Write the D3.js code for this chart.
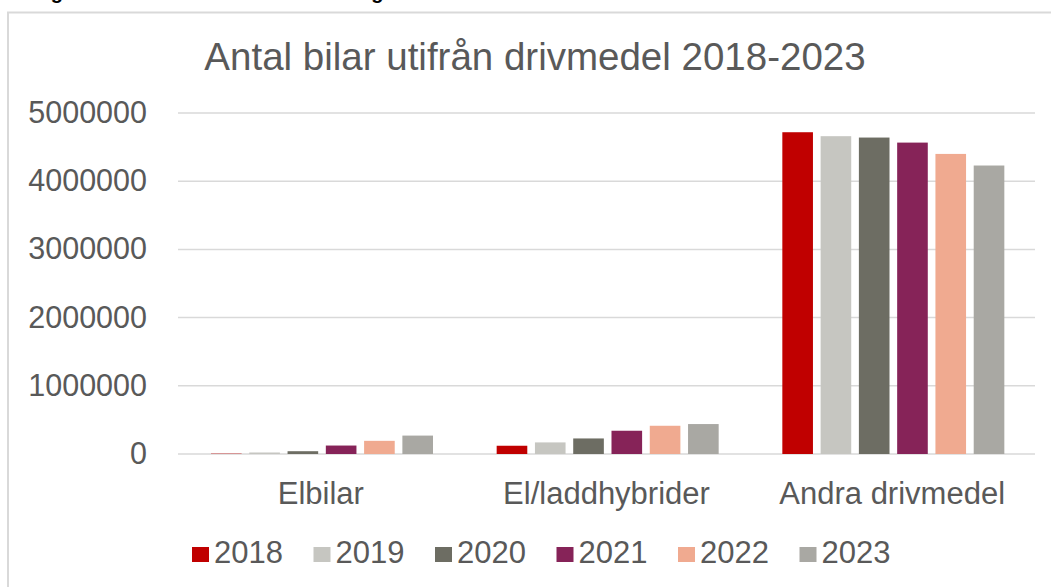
<!DOCTYPE html>
<html>
<head>
<meta charset="utf-8">
<script src="https://cdn.jsdelivr.net/npm/d3@7"></script>
<style>
  html, body { margin: 0; padding: 0; background: #fff; overflow: hidden; }
  svg { display: block; font-family: "Liberation Sans", Arial, sans-serif; }
</style>
</head>
<body>
<svg id="chart" width="1051" height="587"></svg>
<script>
// Antal bilar utifrån drivmedel 2018-2023 — grouped bars, one group per fuel type
const categories = ['Elbilar', 'El/laddhybrider', 'Andra drivmedel'];
const years = ['2018', '2019', '2020', '2021', '2022', '2023'];
const v2018 = [5000, 121000, 4718000];
const v2019 = [22000, 170000, 4660000];
const v2020 = [41000, 228000, 4640000];
const v2021 = [124000, 341000, 4566000];
const v2022 = [193000, 414000, 4400000];
const v2023 = [270000, 439000, 4230000];
const yTicks = [0, 1000000, 2000000, 3000000, 4000000, 5000000];
const colors = ['#c00000', '#c6c6c1', '#6d6d63', '#862358', '#f0aa90', '#a9a8a3'];

const series = [v2018, v2019, v2020, v2021, v2022, v2023];
const W = 1051, H = 587;
const plot = { left: 178, right: 1035, top: 113, bottom: 454 };
const textColor = '#595959';
const gridColor = '#d9d9d9';

const svg = d3.select('#chart');

// caption of the page above the chart, mostly cut off by the crop
svg.append('text')
  .attr('x', 33).attr('y', -1.5)
  .attr('font-size', 20).attr('font-weight', 'bold').attr('fill', '#000')
  .text('Figur 1. Antal bilar i trafik: fördelning');

// chart frame (runs off the right and bottom edge)
svg.append('rect')
  .attr('x', 8).attr('y', 12.5)
  .attr('width', W + 20).attr('height', H + 20)
  .attr('fill', 'none').attr('stroke', gridColor).attr('stroke-width', 2);

svg.append('text')
  .attr('x', 535).attr('y', 70)
  .attr('text-anchor', 'middle')
  .attr('font-size', 38.5).attr('fill', textColor)
  .text('Antal bilar utifrån drivmedel 2018-2023');

const x0 = d3.scaleBand().domain(categories).range([plot.left, plot.right]);
const x1 = d3.scaleBand().domain(years).range([33, 255]).paddingInner(0.2);
const y = d3.scaleLinear().domain([0, 5000000]).range([plot.bottom, plot.top]);

// gridlines
svg.append('g').selectAll('line').data(yTicks).join('line')
  .attr('x1', plot.left).attr('x2', plot.right)
  .attr('y1', d => y(d)).attr('y2', d => y(d))
  .attr('stroke', gridColor).attr('stroke-width', 1.5);

// y tick labels
svg.append('g').selectAll('text').data(yTicks).join('text')
  .attr('x', 147).attr('y', d => y(d) + 10)
  .attr('text-anchor', 'end')
  .attr('font-size', 30.5).attr('fill', textColor)
  .text(d => d3.format('d')(d));

// bars
const groups = svg.append('g').selectAll('g').data(categories).join('g')
  .attr('transform', c => `translate(${x0(c)},0)`);
groups.selectAll('rect')
  .data((c, ci) => years.map((yr, i) => ({ yr, i, value: series[i][ci] })))
  .join('rect')
  .attr('x', d => x1(d.yr))
  .attr('width', x1.bandwidth())
  .attr('y', d => y(d.value))
  .attr('height', d => y(0) - y(d.value))
  .attr('fill', d => colors[d.i]);

// category labels
svg.append('g').selectAll('text').data(categories).join('text')
  .attr('x', c => x0(c) + x0.bandwidth() / 2)
  .attr('y', 504)
  .attr('text-anchor', 'middle')
  .attr('font-size', 31).attr('fill', textColor)
  .text(c => c);

// legend
const legend = svg.append('g').selectAll('g').data(years).join('g')
  .attr('transform', (d, i) => `translate(${192 + i * 121.5},0)`);
legend.append('rect')
  .attr('x', 0).attr('y', 547).attr('width', 17).attr('height', 15)
  .attr('fill', (d, i) => colors[i]);
legend.append('text')
  .attr('x', 22).attr('y', 563)
  .attr('font-size', 31).attr('fill', textColor)
  .text(d => d);
</script>
</body>
</html>
